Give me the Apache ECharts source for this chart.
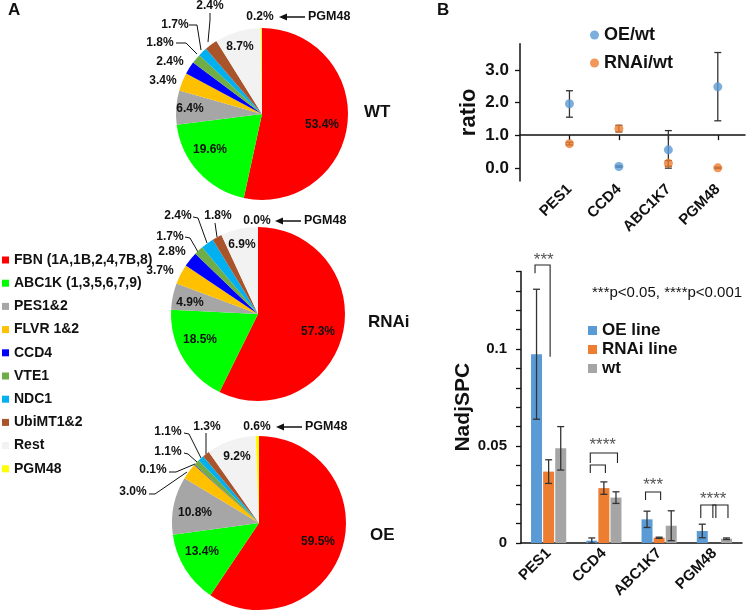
<!DOCTYPE html>
<html><head><meta charset="utf-8">
<script src="https://cdn.jsdelivr.net/npm/echarts@6/dist/echarts.min.js"></script>
<style>html,body{margin:0;padding:0;background:#fff}#c{width:747px;height:614px}</style>
</head><body><div id="c"></div>
<script>
// ---------- DATA ----------
const pieCategories = ['FBN (1A,1B,2,4,7B,8)', 'ABC1K (1,3,5,6,7,9)', 'PES1&2', 'FLVR 1&2', 'CCD4', 'VTE1', 'NDC1', 'UbiMT1&2', 'Rest', 'PGM48'];
const wtShares   = [53.4, 19.6, 6.4, 3.4, 2.4, 1.8, 1.7, 2.4, 8.7, 0.2];
const rnaiShares = [57.3, 18.5, 4.9, 3.7, 2.8, 1.7, 2.4, 1.8, 6.9, 0.0];
const oeShares   = [59.5, 13.4, 10.8, 3.0, 0.1, 1.1, 1.1, 1.3, 9.2, 0.6];
const pieNames = ['WT', 'RNAi', 'OE'];

const genes = ['PES1', 'CCD4', 'ABC1K7', 'PGM48'];
const oeRatio      = [1.96, 0.04, 0.55, 2.48];
const oeRatioLow   = [1.55, 0.02, -0.01, 1.44];
const oeRatioHigh  = [2.36, 0.06, 1.14, 3.53];
const rnaiRatio     = [0.74, 1.20, 0.14, 0.00];
const rnaiRatioLow  = [0.70, 1.10, 0.05, -0.02];
const rnaiRatioHigh = [0.78, 1.30, 0.22, 0.02];
const ratioTicks = [0, 1, 2, 3];

const oeSpc      = [0.0973, 0.0012, 0.0122, 0.0062];
const oeSpcErr   = [0.0335, 0.0014, 0.0042, 0.0035];
const rnaiSpc    = [0.0368, 0.0283, 0.0027, 0.0];
const rnaiSpcErr = [0.0061, 0.0032, 0.0003, 0.0];
const wtSpc      = [0.0488, 0.0234, 0.0089, 0.0022];
const wtSpcErr   = [0.0112, 0.0030, 0.0077, 0.0004];
const spcTickLabels = [0, 0.05, 0.1];

// significance brackets (value units): category, bar from/to, top, leg ends, stars
const sigBrackets = [
  {cat: 0, from: 0, to: 1, top: 0.1433, endL: 0.1390, endR: 0.0960, stars: '***', starAt: 0.6, starY: 0.1468},
  {cat: 1, from: 0, to: 2, top: 0.0464, endL: 0.0412, endR: 0.0412, stars: '****', starAt: 0.9, starY: 0.0515},
  {cat: 1, from: 0, to: 1, top: 0.0402, endL: 0.0361, endR: 0.0361, stars: '', starAt: 0, starY: 0},
  {cat: 2, from: 0, to: 1, top: 0.0263, endL: 0.0222, endR: 0.0222, stars: '***', starAt: 0.5, starY: 0.0310},
  {cat: 3, from: 0, to: 1, top: 0.0196, endL: 0.0129, endR: 0.0129, stars: '****', starAt: 0.9, starY: 0.0237},
  {cat: 3, from: 1, to: 2, top: 0.0196, endL: 0.0129, endR: 0.0129, stars: '', starAt: 0, starY: 0}
];

// ---------- STYLE / LAYOUT ----------
const FONT = 'Liberation Sans, Arial, Helvetica, sans-serif';
const pieColors = ['#FF0000', '#00FF00', '#A6A6A6', '#FFC000', '#0000FF', '#70AD47', '#00B0F0', '#A9542A', '#F2F2F2', '#FFFF00'];
const OE_C = '#5B9BD5', RN_C = '#ED7D31', WT_C = '#A5A5A5';
const BAR_W = 11, BAR_GAP = 0.1, BAR_STEP = BAR_W * (1 + BAR_GAP);

const pieLayouts = [
  {center: [262, 114], r: 86, title: [364, 112],
   labels: [[60,11],[-52,36],[-72,-5],[-99,-33],[-92,-52],[-102,-71],[-87,-89],[-52,-108],[-22,-67],[-2,-97]],
   leaders: {5: [[-65,-60],[-76,-71],[-86,-71]], 6: [[-61,-64],[-65,-89],[-73,-89]], 7: [[-54,-72],[-52,-94],[-52,-101]]}},
  {center: [258, 314], r: 87, title: [368, 322],
   labels: [[60,18],[-58,26],[-68,-11],[-98,-43],[-86,-62],[-88,-77],[-80,-98],[-40,-98],[-16,-69],[-1,-93]],
   leaders: {5: [[-60,-62],[-68,-76],[-73,-77]], 6: [[-51,-71],[-60,-96],[-65,-97]], 7: [[-41,-77],[-42,-84],[-43,-91]]}},
  {center: [259, 523], r: 87, title: [370, 535],
   labels: [[59,19],[-57,29],[-64,-10],[-126,-31],[-106,-53],[-91,-71],[-91,-91],[-52,-96],[-22,-66],[-2,-96]],
   leaders: {3: [[-72,-51],[-104,-29],[-110,-29]], 4: [[-64,-59],[-83,-51],[-90,-51]], 5: [[-62,-61],[-71,-69],[-75,-70]],
             6: [[-58,-65],[-70,-89],[-75,-90]], 7: [[-53,-69],[-53,-80],[-53,-90]]}}
];

const shareSets = [wtShares, rnaiShares, oeShares];

const pieSeries = shareSets.map((vals, s) => {
  const L = pieLayouts[s];
  return {
    type: 'pie', name: pieNames[s], center: L.center, radius: L.r,
    startAngle: 90, clockwise: true, avoidLabelOverlap: false, silent: true,
    itemStyle: {borderWidth: 0},
    label: {show: true, position: 'outside', formatter: p => p.value.toFixed(1) + '%',
            fontFamily: FONT, fontWeight: 'bold', fontSize: 12, color: '#111'},
    labelLine: {show: false, lineStyle: {color: '#111', width: 1}},
    data: vals.map((v, i) => ({
      name: pieCategories[i], value: v,
      itemStyle: {color: pieColors[i]},
      labelLine: {show: !!L.leaders[i]}
    })),
    labelLayout: function (params) {
      const i = params.dataIndex;
      const off = L.labels[i];
      const res = {x: L.center[0] + off[0], y: L.center[1] + off[1], align: 'center', verticalAlign: 'middle'};
      if (L.leaders[i]) {
        res.labelLinePoints = L.leaders[i].map(p => [L.center[0] + p[0], L.center[1] + p[1]]);
      }
      return res;
    }
  };
});

function errBar(offsetPx, cap) {
  return function (params, api) {
    const x = api.value(0), lo = api.value(1), hi = api.value(2);
    const a = api.coord([x, lo]), b = api.coord([x, hi]);
    const cx = a[0] + offsetPx;
    const st = {stroke: '#333', lineWidth: 1.3};
    return {type: 'group', children: [
      {type: 'line', shape: {x1: cx, y1: a[1], x2: cx, y2: b[1]}, style: st},
      {type: 'line', shape: {x1: cx - cap, y1: a[1], x2: cx + cap, y2: a[1]}, style: st},
      {type: 'line', shape: {x1: cx - cap, y1: b[1], x2: cx + cap, y2: b[1]}, style: st}
    ]};
  };
}

const spcSets = [[oeSpc, oeSpcErr], [rnaiSpc, rnaiSpcErr], [wtSpc, wtSpcErr]];
const spcErrSeries = spcSets.map((set, k) => ({
  type: 'custom', xAxisIndex: 2, yAxisIndex: 2, silent: true, z: 5,
  renderItem: errBar((k - 1) * BAR_STEP, 3.5),
  data: set[0].map((v, i) => [i, Math.max(0, v - set[1][i]), v + set[1][i], v]).filter(d => d[3] > 0)
}));

const bracketSeries = {
  type: 'custom', xAxisIndex: 2, yAxisIndex: 2, silent: true, z: 6, clip: false,
  data: sigBrackets.map(b => [b.cat, b.top]),
  renderItem: function (params, api) {
    const b = sigBrackets[params.dataIndex];
    const c = api.coord([b.cat, b.top]);
    const xl = c[0] + (b.from - 1) * BAR_STEP - 1.5, xr = c[0] + (b.to - 1) * BAR_STEP + 1.5;
    const yT = c[1], yL = api.coord([b.cat, b.endL])[1], yR = api.coord([b.cat, b.endR])[1];
    const children = [{type: 'polyline', shape: {points: [[xl, yL], [xl, yT], [xr, yT], [xr, yR]]},
                       style: {stroke: '#222', lineWidth: 1.1, fill: null}}];
    if (b.stars) {
      const sy = api.coord([b.cat, b.starY])[1];
      children.push({type: 'text', x: c[0] + (b.starAt - 1) * BAR_STEP, y: sy + 2,
        style: {text: b.stars, font: '17px ' + FONT, fill: '#555', align: 'center', verticalAlign: 'middle'}});
    }
    return {type: 'group', children};
  }
};

const graphics = [
  {type: 'text', left: 8, top: 2, style: {text: 'A', font: 'bold 17px ' + FONT, fill: '#111'}},
  {type: 'text', left: 437, top: 2, style: {text: 'B', font: 'bold 17px ' + FONT, fill: '#111'}},
  {type: 'text', x: 592, y: 293, style: {text: '***p<0.05, ****p<0.001', font: '15px ' + FONT, fill: '#111', verticalAlign: 'middle'}}
];
pieLayouts.forEach((L, s) => {
  graphics.push({type: 'text', x: L.title[0], y: L.title[1],
    style: {text: pieNames[s], font: 'bold 17px ' + FONT, fill: '#111', verticalAlign: 'middle'}});
  const y = L.center[1] + L.labels[9][1];
  const x0 = L.center[0];
  graphics.push({type: 'line', shape: {x1: x0 + 23, y1: y, x2: x0 + 43, y2: y}, style: {stroke: '#111', lineWidth: 1.5}});
  graphics.push({type: 'polygon', shape: {points: [[x0 + 17, y], [x0 + 25, y - 3.5], [x0 + 25, y + 3.5]]}, style: {fill: '#111'}});
  graphics.push({type: 'text', x: x0 + 46, y: y, style: {text: 'PGM48', font: 'bold 12.5px ' + FONT, fill: '#111', verticalAlign: 'middle'}});
});

const axisLineBlack = {show: true, lineStyle: {color: '#111', width: 1.5}};

const option = {
  animation: false,
  backgroundColor: '#fff',
  textStyle: {fontFamily: FONT},
  graphic: graphics,
  legend: [
    {data: pieCategories, orient: 'vertical', left: 2, top: 253, padding: 0, icon: 'rect', itemWidth: 7, itemHeight: 7,
     itemGap: 9.2, itemStyle: {borderWidth: 0}, selectedMode: false,
     textStyle: {fontFamily: FONT, fontWeight: 'bold', fontSize: 14, color: '#111', lineHeight: 14}},
    {data: ['OE/wt', 'RNAi/wt'], orient: 'vertical', left: 590, top: 26, padding: 0, icon: 'circle', itemWidth: 9, itemHeight: 9,
     itemGap: 10, selectedMode: false,
     textStyle: {fontFamily: FONT, fontWeight: 'bold', fontSize: 18, color: '#111', lineHeight: 17}},
    {data: ['OE line', 'RNAi line', 'wt'], orient: 'vertical', left: 588, top: 322, padding: 0, icon: 'rect', itemWidth: 9, itemHeight: 9,
     itemGap: 2, selectedMode: false,
     textStyle: {fontFamily: FONT, fontWeight: 'bold', fontSize: 17, color: '#111', lineHeight: 17}}
  ],
  grid: [
    {left: 520, top: 43.7, width: 225, height: 137.2},
    {left: 521, top: 271.4, width: 221, height: 271.6}
  ],
  xAxis: [
    {gridIndex: 0, type: 'value', min: 0, max: 4.55, position: 'bottom',
     axisLine: {show: false, onZero: false}, axisTick: {show: false}, splitLine: {show: false},
     axisLabel: {customValues: [1, 2, 3, 4], formatter: v => genes[Math.round(v) - 1] || '', rotate: 45, margin: 6,
                 fontFamily: FONT, fontWeight: 'bold', fontSize: 15, color: '#111'}},
    {gridIndex: 0, type: 'value', min: 0, max: 4.55, position: 'top',
     axisLine: {show: true, onZero: true, onZeroAxisIndex: 1, lineStyle: {color: '#111', width: 1.5}},
     axisTick: {show: true, inside: true, length: 5, customValues: [1, 2, 3, 4], lineStyle: {color: '#111', width: 1.3}},
     axisLabel: {show: false}, splitLine: {show: false}},
    {gridIndex: 1, type: 'category', data: genes, axisLine: axisLineBlack, axisTick: {show: false},
     axisLabel: {rotate: 45, margin: 8, fontFamily: FONT, fontWeight: 'bold', fontSize: 15, color: '#111', interval: 0}}
  ],
  yAxis: [
    {gridIndex: 0, type: 'value', min: -0.4, max: 3.8, axisLine: axisLineBlack, splitLine: {show: false},
     axisTick: {show: true, length: 5, customValues: ratioTicks, lineStyle: {color: '#111', width: 1.3}},
     axisLabel: {customValues: ratioTicks, formatter: v => v.toFixed(1), margin: 11,
                 fontFamily: FONT, fontWeight: 'bold', fontSize: 17, color: '#111'},
     name: 'ratio', nameLocation: 'middle', nameRotate: 90, nameGap: 40,
     nameTextStyle: {fontFamily: FONT, fontWeight: 'bold', fontSize: 22, color: '#111'}},
    {gridIndex: 0, type: 'value', min: -1.4, max: 2.8, show: false, splitLine: {show: false}},
    {gridIndex: 1, type: 'value', min: 0, max: 0.14, interval: 0.01, axisLine: axisLineBlack, splitLine: {show: false},
     axisTick: {show: true, length: 5, lineStyle: {color: '#111', width: 1.3}},
     axisLabel: {customValues: spcTickLabels, formatter: v => (Math.abs(v) < 1e-9 ? '0' : String(+v.toFixed(2))), margin: 14,
                 fontFamily: FONT, fontWeight: 'bold', fontSize: 15, color: '#111'},
     name: 'NadjSPC', nameLocation: 'middle', nameRotate: 90, nameGap: 34,
     nameTextStyle: {fontFamily: FONT, fontWeight: 'bold', fontSize: 21, color: '#111'}}
  ],
  series: [
    ...pieSeries,
    {type: 'custom', xAxisIndex: 0, yAxisIndex: 0, silent: true, z: 3, renderItem: errBar(0, 3.5),
     data: oeRatio.map((v, i) => [i + 1, oeRatioLow[i], oeRatioHigh[i]])},
    {type: 'custom', xAxisIndex: 0, yAxisIndex: 0, silent: true, z: 3, renderItem: errBar(0, 3.5),
     data: rnaiRatio.map((v, i) => [i + 1, rnaiRatioLow[i], rnaiRatioHigh[i]])},
    {type: 'scatter', name: 'OE/wt', xAxisIndex: 0, yAxisIndex: 0, symbolSize: 9, z: 4, itemStyle: {color: OE_C},
     data: oeRatio.map((v, i) => [i + 1, v])},
    {type: 'scatter', name: 'RNAi/wt', xAxisIndex: 0, yAxisIndex: 0, symbolSize: 9, z: 4, itemStyle: {color: RN_C},
     data: rnaiRatio.map((v, i) => [i + 1, v])},
    {type: 'bar', name: 'OE line', xAxisIndex: 2, yAxisIndex: 2, barWidth: BAR_W, barGap: (BAR_GAP * 100) + '%',
     itemStyle: {color: OE_C}, data: oeSpc},
    {type: 'bar', name: 'RNAi line', xAxisIndex: 2, yAxisIndex: 2, barWidth: BAR_W, barGap: (BAR_GAP * 100) + '%',
     itemStyle: {color: RN_C}, data: rnaiSpc},
    {type: 'bar', name: 'wt', xAxisIndex: 2, yAxisIndex: 2, barWidth: BAR_W, barGap: (BAR_GAP * 100) + '%',
     itemStyle: {color: WT_C}, data: wtSpc},
    ...spcErrSeries,
    bracketSeries
  ]
};

const chart = echarts.init(document.getElementById('c'), null, {renderer: 'canvas'});
chart.setOption(option);
</script>
</body></html>
